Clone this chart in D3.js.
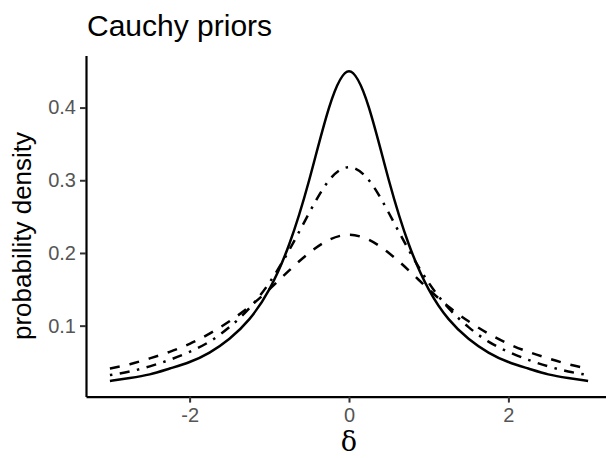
<!DOCTYPE html>
<html>
<head>
<meta charset="utf-8">
<script src="https://cdn.jsdelivr.net/npm/d3@7"></script>
<style>
  body { margin: 0; background: #fff; }
  svg { display: block; font-family: "Liberation Sans", Arial, sans-serif; }
</style>
</head>
<body>
<svg id="chart" width="606" height="458"></svg>
<script>
// delta values the curves are sampled at
const xs = [-3, -2.75, -2.5, -2.25, -2, -1.75, -1.5, -1.25, -1, -0.75, -0.5, -0.25, 0,
            0.25, 0.5, 0.75, 1, 1.25, 1.5, 1.75, 2, 2.25, 2.5, 2.75, 3];

// densities
const solid = [0.024, 0.028, 0.033, 0.041, 0.050, 0.063, 0.082, 0.109, 0.150, 0.212, 0.300, 0.400, 0.450,
               0.400, 0.300, 0.212, 0.150, 0.109, 0.082, 0.063, 0.050, 0.041, 0.033, 0.028, 0.024];
const dotdash = [0.032, 0.037, 0.044, 0.053, 0.064, 0.078, 0.098, 0.124, 0.159, 0.204, 0.255, 0.300, 0.318,
                 0.300, 0.255, 0.204, 0.159, 0.124, 0.098, 0.078, 0.064, 0.053, 0.044, 0.037, 0.032];
const dashed = [0.041, 0.047, 0.055, 0.064, 0.075, 0.089, 0.106, 0.126, 0.150, 0.176, 0.200, 0.218, 0.225,
                0.218, 0.200, 0.176, 0.150, 0.126, 0.106, 0.089, 0.075, 0.064, 0.055, 0.047, 0.041];

const xTicks = [-2, 0, 2];
const xTickLabels = ['-2', '0', '2'];
const yTicks = [0.1, 0.2, 0.3, 0.4];

const svg = d3.select('#chart');

const x = d3.scaleLinear()
    .domain([-3.3, 3.3])
    .range([86, 612]);
const y = d3.scaleLinear()
    .domain([0.0024, 0.4715])
    .range([396.6, 55.6]);

// axes
const xAxis = svg.append('g')
    .attr('transform', `translate(0,${y.range()[0]})`)
    .call(d3.axisBottom(x).tickValues(xTicks).tickSize(6).tickSizeOuter(0).tickPadding(5)
        .tickFormat((d, i) => xTickLabels[i]));
const yAxis = svg.append('g')
    .attr('transform', `translate(${x.range()[0]},0)`)
    .call(d3.axisLeft(y).tickValues(yTicks).tickSize(6).tickSizeOuter(0).tickPadding(4)
        .tickFormat(d3.format('.1f')));

[xAxis, yAxis].forEach(a => {
    a.select('.domain').attr('stroke', '#000').attr('stroke-width', 2.2);
    a.selectAll('.tick line').attr('stroke', '#333').attr('stroke-width', 2);
    a.selectAll('.tick text')
        .attr('fill', '#555')
        .style('font-size', '20px')
        .style('font-family', '"Liberation Sans", Arial, sans-serif');
});

// curves
const line = d3.line()
    .x((d, i) => x(xs[i]))
    .y(d => y(d))
    .curve(d3.curveNatural);

const series = [
    {values: dashed, dash: '10,10'},
    {values: dotdash, dash: '2.5,7.5,10,7.5'},
    {values: solid, dash: null}
];

svg.selectAll('path.curve')
    .data(series)
    .enter()
    .append('path')
    .attr('class', 'curve')
    .attr('d', d => line(d.values))
    .attr('fill', 'none')
    .attr('stroke', '#000')
    .attr('stroke-width', 2.5)
    .attr('stroke-dasharray', d => d.dash);

// labels
svg.append('text')
    .attr('x', 87)
    .attr('y', 36)
    .style('font-size', '30px')
    .text('Cauchy priors');

svg.append('text')
    .attr('transform', 'translate(31,236) rotate(-90)')
    .attr('text-anchor', 'middle')
    .style('font-size', '26px')
    .text('probability density');

svg.append('text')
    .attr('x', x(0))
    .attr('y', 451)
    .attr('text-anchor', 'middle')
    .style('font-family', '"DejaVu Serif", "Liberation Serif", serif')
    .style('font-size', '27px')
    .text('δ');
</script>
</body>
</html>
